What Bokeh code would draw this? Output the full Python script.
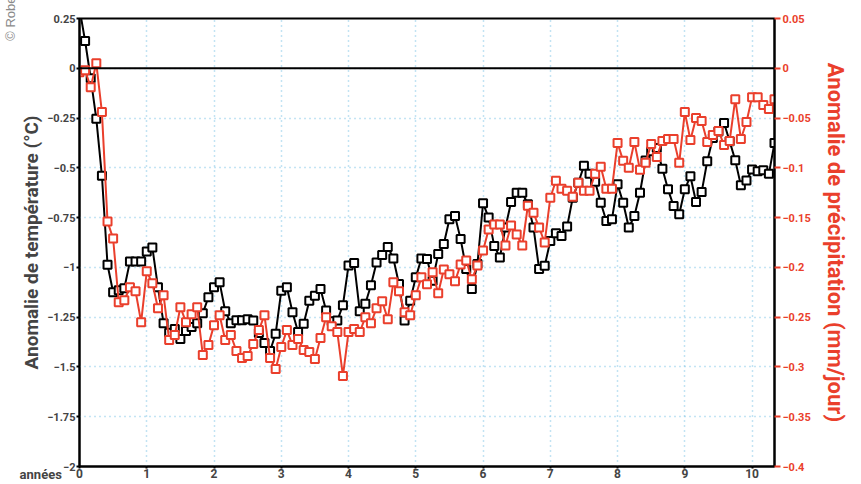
import math
from bokeh.plotting import figure
from bokeh.models import Range1d, LinearAxis, FixedTicker, CustomJSTickFormatter, Span, Title
from bokeh.embed import file_html
from bokeh.resources import INLINE

# ---- data (monthly values, month index 0..124) ----
months = list(range(0, 125))
years = [m / 12 for m in months]

temperature = [
    0.30, 0.137, -0.05, -0.254, -0.54, -0.987, -1.125, -1.115, -1.105, -0.97,
    -0.97, -0.97, -0.92, -0.90, -1.10, -1.28, -1.328, -1.31, -1.36, -1.32,
    -1.30, -1.28, -1.23, -1.15, -1.10, -1.075, -1.22, -1.28, -1.265, -1.265,
    -1.26, -1.267, -1.33, -1.38, -1.42, -1.333, -1.117, -1.10, -1.225, -1.325,
    -1.283, -1.167, -1.142, -1.108, -1.217, -1.27, -1.267, -1.19, -0.99, -0.978,
    -1.22, -1.183, -1.09, -0.975, -0.938, -0.897, -0.955, -1.083, -1.267, -1.167,
    -1.05, -0.955, -0.958, -1.067, -0.933, -0.883, -0.758, -0.742, -0.858, -1.008,
    -1.108, -0.983, -0.678, -0.75, -0.892, -0.95, -0.80, -0.672, -0.625, -0.625,
    -0.683, -0.80, -1.008, -0.992, -0.867, -0.828, -0.842, -0.795, -0.65, -0.575,
    -0.49, -0.53, -0.57, -0.675, -0.767, -0.758, -0.583, -0.675, -0.80, -0.742,
    -0.625, -0.463, -0.417, -0.40, -0.505, -0.608, -0.692, -0.733, -0.608, -0.542,
    -0.672, -0.622, -0.467, -0.35, -0.317, -0.275, -0.367, -0.462, -0.588, -0.563,
    -0.508, -0.517, -0.512, -0.53, -0.375,
]

precipitation = [
    -0.004, -0.002, -0.019, 0.005, -0.044, -0.154, -0.171, -0.235, -0.233, -0.220,
    -0.224, -0.255, -0.204, -0.216, -0.241, -0.228, -0.273, -0.268, -0.240, -0.255,
    -0.247, -0.240, -0.288, -0.278, -0.258, -0.248, -0.273, -0.268, -0.284, -0.291,
    -0.289, -0.277, -0.263, -0.248, -0.291, -0.302, -0.280, -0.263, -0.278, -0.272,
    -0.283, -0.285, -0.292, -0.271, -0.250, -0.259, -0.265, -0.309, -0.265, -0.262,
    -0.265, -0.250, -0.256, -0.241, -0.234, -0.252, -0.215, -0.224, -0.245, -0.248,
    -0.228, -0.210, -0.217, -0.205, -0.226, -0.202, -0.207, -0.214, -0.197, -0.193,
    -0.212, -0.198, -0.183, -0.162, -0.157, -0.157, -0.178, -0.158, -0.167, -0.178,
    -0.138, -0.145, -0.160, -0.175, -0.130, -0.113, -0.121, -0.123, -0.129, -0.115,
    -0.123, -0.123, -0.106, -0.099, -0.121, -0.121, -0.075, -0.093, -0.100, -0.074,
    -0.102, -0.095, -0.076, -0.089, -0.073, -0.071, -0.071, -0.095, -0.044, -0.072,
    -0.050, -0.053, -0.074, -0.067, -0.063, -0.077, -0.073, -0.031, -0.071, -0.054,
    -0.029, -0.029, -0.037, -0.041, -0.031,
]

x_ticks = [0, 1, 2, 3, 4, 5, 6, 7, 8, 9, 10]
temp_ticks = [0.25, 0, -0.25, -0.5, -0.75, -1, -1.25, -1.5, -1.75, -2]
precip_ticks = [0.05, 0, -0.05, -0.1, -0.15, -0.2, -0.25, -0.3, -0.35, -0.4]

RED = "#ea3f2c"
GRID = "#86c8e8"
FONT = "Roboto"

p = figure(width=858, height=484, output_backend="svg", toolbar_location=None,
           x_range=Range1d(0, 124 / 12), y_range=Range1d(-2, 0.25),
           min_border_left=79, min_border_right=84, min_border_top=18,
           min_border_bottom=15)
p.background_fill_color = "white"
p.border_fill_color = "white"
p.outline_line_color = "black"
p.outline_line_width = 2
p.extra_y_ranges = {"precip": Range1d(-0.4, 0.05)}

fmt = CustomJSTickFormatter(code="""
const v = Number(tick.toFixed(2));
return v < 0 ? '\\u2212' + Math.abs(v).toString() : v.toString();
""")

# copyright watermark (vertical, cut at the top edge)
p.add_layout(Title(text="© Robert", align="right", offset=-30, standoff=0,
                   text_font="Liberation Sans", text_font_style="normal",
                   text_font_size="13px", text_color="#8a8a8a"), "left")

# x axis
xa = p.xaxis[0]
xa.ticker = FixedTicker(ticks=x_ticks)
xa.formatter = fmt
xa.axis_line_width = 2
xa.major_tick_in = 0
xa.major_tick_out = 2
xa.major_tick_line_width = 2
xa.minor_tick_line_color = None
xa.major_label_standoff = 0
xa.major_label_text_font = FONT
xa.major_label_text_font_style = "bold"
xa.major_label_text_font_size = "12px"
xa.axis_label = "années" + "\u00a0" * 24
xa.axis_label_align = "start"
xa.axis_label_standoff = -14
xa.axis_label_text_font = FONT
xa.axis_label_text_font_style = "bold"
xa.axis_label_text_font_size = "13px"

# left axis
ya = p.yaxis[0]
ya.ticker = FixedTicker(ticks=temp_ticks)
ya.formatter = fmt
ya.axis_line_width = 2
ya.major_tick_in = 0
ya.major_tick_out = 3
ya.major_tick_line_width = 2
ya.minor_tick_line_color = None
ya.major_label_standoff = 1
ya.major_label_text_font = FONT
ya.major_label_text_font_style = "bold"
ya.major_label_text_font_size = "11px"
ya.axis_label = "Anomalie de température (°C)"
ya.axis_label_text_font = FONT
ya.axis_label_text_font_style = "bold"
ya.axis_label_text_font_size = "19px"
ya.axis_label_standoff = 1

# right axis
ra = LinearAxis(y_range_name="precip", ticker=FixedTicker(ticks=precip_ticks), formatter=fmt)
ra.axis_line_color = "black"
ra.axis_line_width = 2
ra.major_tick_in = 0
ra.major_tick_out = 6
ra.major_tick_line_color = RED
ra.major_tick_line_width = 2
ra.minor_tick_line_color = None
ra.major_label_standoff = 2
ra.major_label_text_color = RED
ra.major_label_text_font = FONT
ra.major_label_text_font_style = "bold"
ra.major_label_text_font_size = "11px"
ra.axis_label = "Anomalie de précipitation (mm/jour)"
ra.axis_label_text_color = RED
ra.axis_label_text_font = FONT
ra.axis_label_text_font_style = "bold"
ra.axis_label_text_font_size = "22px"
ra.axis_label_standoff = 9
p.add_layout(ra, "right")

# grids
p.xgrid.ticker = FixedTicker(ticks=x_ticks)
p.ygrid.ticker = FixedTicker(ticks=temp_ticks)
for g in (p.xgrid[0], p.ygrid[0]):
    g.grid_line_color = GRID
    g.grid_line_dash = "1 4"
    g.grid_line_width = 1.5

p.add_layout(Span(location=0, dimension="width", line_color="black", line_width=2))

# series
p.line(years, temperature, line_color="black", line_width=2)
p.scatter(years, temperature, marker="square", size=8, fill_color="white",
          line_color="black", line_width=2)
p.line(years, precipitation, line_color=RED, line_width=2, y_range_name="precip")
p.scatter(years, precipitation, marker="square", size=8, fill_color="white",
          line_color=RED, line_width=2, y_range_name="precip")

open("out.html", "w").write(file_html(p, INLINE))
